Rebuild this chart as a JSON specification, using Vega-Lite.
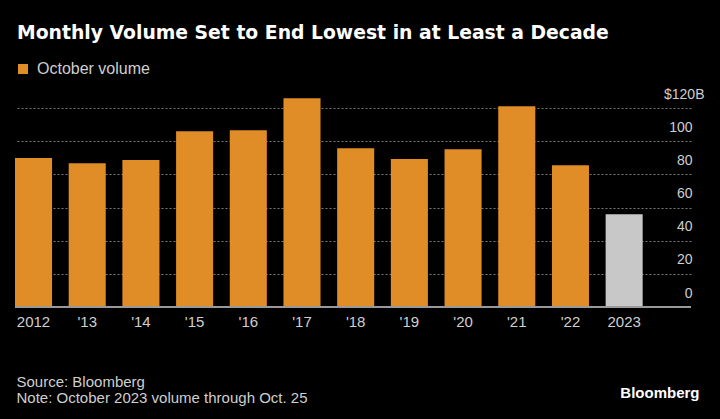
{
  "$schema": "https://vega.github.io/schema/vega-lite/v6.json",
  "autosize": "none",
  "width": 676,
  "height": 199,
  "padding": {"left": 15, "top": 108, "right": 29, "bottom": 112},
  "background": "#000000",
  "config": {
    "view": {"stroke": null},
    "font": "Liberation Sans"
  },
  "title": {
    "text": "Monthly Volume Set to End Lowest in at Least a Decade",
    "anchor": "start",
    "frame": "group",
    "font": "DejaVu Sans",
    "fontSize": 18.8,
    "fontWeight": "bold",
    "color": "#ffffff",
    "baseline": "alphabetic",
    "offset": 20,
    "dx": 2,
    "dy": 17
  },
  "data": {
    "values": [
      {"year": "2012", "volume": 89.8, "type": "October volume"},
      {"year": "'13", "volume": 86.7, "type": "October volume"},
      {"year": "'14", "volume": 88.6, "type": "October volume"},
      {"year": "'15", "volume": 106.0, "type": "October volume"},
      {"year": "'16", "volume": 106.6, "type": "October volume"},
      {"year": "'17", "volume": 125.9, "type": "October volume"},
      {"year": "'18", "volume": 95.8, "type": "October volume"},
      {"year": "'19", "volume": 89.2, "type": "October volume"},
      {"year": "'20", "volume": 95.2, "type": "October volume"},
      {"year": "'21", "volume": 121.0, "type": "October volume"},
      {"year": "'22", "volume": 85.5, "type": "October volume"},
      {"year": "2023", "volume": 56.0, "type": "Through Oct. 25"}
    ]
  },
  "layer": [
    {
      "mark": {"type": "bar"},
      "encoding": {
        "x": {
          "field": "year",
          "type": "nominal",
          "sort": null,
          "scale": {"paddingInner": 0.31, "paddingOuter": 0.45, "align": 0},
          "axis": {
            "title": ["Source: Bloomberg", "Note: October 2023 volume through Oct. 25"],
            "titleAnchor": "start",
            "titleAlign": "left",
            "titleBaseline": "alphabetic",
            "titleX": 1,
            "titleY": 79,
            "titleLineHeight": 16,
            "titleFont": "Liberation Sans",
            "titleFontSize": 15,
            "titleFontWeight": "normal",
            "titleColor": "#cfcfcf",
            "labelAngle": 0,
            "labelFont": "Liberation Sans",
            "labelFontSize": 15,
            "labelColor": "#cfcfcf",
            "labelPadding": 7,
            "labelOverlap": false,
            "ticks": false,
            "tickSize": 0,
            "domain": false,
            "grid": false
          }
        },
        "y": {
          "field": "volume",
          "type": "quantitative",
          "scale": {"domain": [0, 120], "nice": false},
          "axis": {
            "orient": "right",
            "values": [0, 20, 40, 60, 80, 100, 120],
            "tickCount": 10,
            "labelExpr": "datum.value == 120 ? '$120B' : datum.label",
            "labelAlign": "right",
            "labelBaseline": "alphabetic",
            "labelOffset": -10,
            "labelOverlap": false,
            "labelBound": false,
            "labelFlush": false,
            "labelPadding": {"condition": {"test": "datum.value == 120", "value": 13}, "value": 1},
            "labelFont": "Liberation Sans",
            "labelFontSize": 14,
            "labelColor": "#cfcfcf",
            "ticks": false,
            "tickSize": 0,
            "domain": false,
            "grid": true,
            "gridColor": {"condition": {"test": "datum.value == 0", "value": "transparent"}, "value": "#7a7a7a"},
            "gridDash": [2, 2],
            "gridWidth": 1,
            "title": "Bloomberg",
            "titleAngle": 0,
            "titleAlign": "right",
            "titleBaseline": "alphabetic",
            "titleX": 8,
            "titleY": 289,
            "titleFont": "Liberation Sans",
            "titleFontSize": 15,
            "titleFontWeight": "bold",
            "titleColor": "#ffffff"
          }
        },
        "color": {
          "field": "type",
          "type": "nominal",
          "scale": {"domain": ["October volume", "Through Oct. 25"], "range": ["#E08D27", "#C8C8C8"]},
          "legend": {
            "values": ["October volume"],
            "title": null,
            "orient": "none",
            "legendX": 0,
            "legendY": -47,
            "padding": 0,
            "symbolType": "square",
            "symbolSize": 100,
            "symbolStrokeWidth": 0,
            "symbolOpacity": 1,
            "labelOffset": 6,
            "labelFont": "Liberation Sans",
            "labelFontSize": 16,
            "labelColor": "#cfcfcf"
          }
        }
      }
    },
    {
      "mark": {"type": "rule", "color": "#9a9a9a", "strokeWidth": 1.5},
      "encoding": {"y": {"datum": 0}}
    }
  ]
}
